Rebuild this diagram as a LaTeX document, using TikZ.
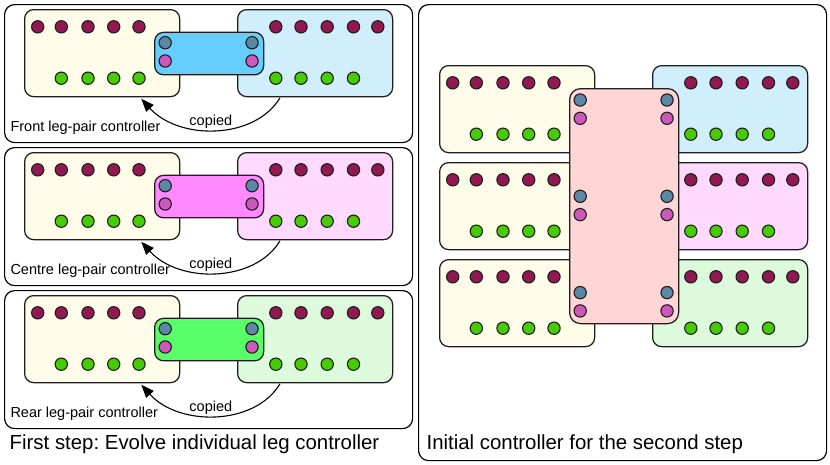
\documentclass[tikz,border=0pt]{standalone}
\usepackage{fontspec}
\setmainfont{Liberation Sans}
\frenchspacing
\usetikzlibrary{arrows.meta,calc}
\definecolor{dotred}{RGB}{145,24,80}
\definecolor{dotgreen}{RGB}{70,204,0}
\definecolor{dotblue}{RGB}{92,136,165}
\definecolor{dotpink}{RGB}{204,88,188}
\definecolor{leftfill}{RGB}{255,253,233}
\definecolor{fillA}{RGB}{208,238,252}
\definecolor{fillB}{RGB}{255,217,255}
\definecolor{fillC}{RGB}{221,250,221}
\definecolor{linkA}{RGB}{102,206,255}
\definecolor{linkB}{RGB}{255,138,255}
\definecolor{linkC}{RGB}{88,255,104}
\definecolor{centralfill}{RGB}{255,213,213}
\definecolor{edge}{RGB}{30,30,30}
\tikzset{
  ctrlbox/.style={draw=edge, line width=1.25pt, rounded corners=9pt, minimum width=155pt, minimum height=87pt, inner sep=0pt, anchor=north west},
  linkbox/.style={draw=edge, line width=1.25pt, rounded corners=9pt, minimum width=109pt, minimum height=42.5pt, inner sep=0pt, anchor=north west},
  centralbox/.style={draw=edge, line width=1.25pt, rounded corners=11pt, minimum width=109pt, minimum height=235pt, inner sep=0pt, anchor=north west, fill=centralfill},
  panel/.style={draw=black, line width=1.2pt, rounded corners=10pt, inner sep=0pt, anchor=north west},
  dot/.style={circle, draw=edge, line width=1.1pt, minimum size=12.3pt, inner sep=0pt},
  reddot/.style={dot, fill=dotred},
  greendot/.style={dot, fill=dotgreen},
  bluedot/.style={dot, fill=dotblue},
  pinkdot/.style={dot, fill=dotpink},
  lbl/.style={font=\fontsize{14.5}{16}\selectfont, inner sep=0pt, anchor=base west},
  caption/.style={font=\fontsize{20.4}{23}\selectfont, inner sep=0pt, anchor=base west},
  copyarrow/.style={draw=black, line width=1.1pt, -{Triangle[length=13pt,width=10pt]}},
}
% left controller: name, x, y
\newcommand\mkleftctrl[3]{%
  \node[ctrlbox, fill=leftfill] (#1) at (#2,#3) {};
  \foreach \dx [count=\i] in {13.7,37.3,64,89.7,115}
    \node[reddot] (#1t\i) at ($(#1.north west)+(\dx,17.8)$) {};
  \foreach \dx [count=\i] in {37.3,64,89.7,115}
    \node[greendot] (#1b\i) at ($(#1.north west)+(\dx,69.2)$) {};
}
% right controller: name, x, y, fill
\newcommand\mkrightctrl[4]{%
  \node[ctrlbox, fill=#4] (#1) at (#2,#3) {};
  \foreach \dx [count=\i] in {38.8,64,90.2,116.5,140.8}
    \node[reddot] (#1t\i) at ($(#1.north west)+(\dx,17.8)$) {};
  \foreach \dx [count=\i] in {38.8,64,90.2,116.5}
    \node[greendot] (#1b\i) at ($(#1.north west)+(\dx,69.2)$) {};
}
% link dots: box name, y offset of pair, suffix
\newcommand\mklinkdots[3]{%
  \node[bluedot] (#1lb#3) at ($(#1.north west)+(11.2,#2)$) {};
  \node[pinkdot] (#1lp#3) at ($(#1.north west)+(11.2,#2+18.3)$) {};
  \node[bluedot] (#1rb#3) at ($(#1.north east)+(-12.2,#2)$) {};
  \node[pinkdot] (#1rp#3) at ($(#1.north east)+(-12.2,#2+18.3)$) {};
}
% one first-step panel: prefix, y offset, right fill, link fill, label
\newcommand\mksteppanel[5]{%
  \node[panel, minimum width=408pt, minimum height=138pt] (#1P) at (4,4+#2) {};
  \mkleftctrl{#1L}{24}{9+#2}
  \mkrightctrl{#1R}{237}{9+#2}{#3}
  \node[linkbox, fill=#4] (#1K) at (154,31.7+#2) {};
  \mklinkdots{#1K}{11}{}
  \coordinate (#1s) at ($(#1R.south west)+(43,0.5)$);
  \coordinate (#1e) at ($(#1L.south east)+(-39,1.5)$);
  \draw[copyarrow] (#1s) .. controls +(-25,42) and +(38,42) .. (#1e);
  \node[lbl, anchor=base] (#1c) at (210.8,125+#2) {copied};
  \node[lbl] (#1n) at (10.3,131.7+#2) {#5};
}
\begin{document}
\begin{tikzpicture}[x=1pt,y=-1pt]
\useasboundingbox (0,0) rectangle (830,464);
\mksteppanel{a}{0}{fillA}{linkA}{Front leg-pair controller}
\mksteppanel{b}{143}{fillB}{linkB}{Centre leg-pair controller}
\mksteppanel{c}{286}{fillC}{linkC}{Rear leg-pair controller}
\node[caption] (cap1) at (9.5,449) {First step: Evolve individual leg controller};
% second step
\node[panel, minimum width=408pt, minimum height=456pt] (Q) at (418,4) {};
\mkleftctrl{QL1}{439}{65}
\mkleftctrl{QL2}{439}{162}
\mkleftctrl{QL3}{439}{259}
\mkrightctrl{QR1}{652}{65}{fillA}
\mkrightctrl{QR2}{652}{162}{fillB}
\mkrightctrl{QR3}{652}{259}{fillC}
\node[centralbox] (QC) at (569,88) {};
\mklinkdots{QC}{12}{1}
\mklinkdots{QC}{108.3}{2}
\mklinkdots{QC}{204.6}{3}
\node[caption] (cap2) at (426.4,449) {Initial controller for the second step};
\end{tikzpicture}
\end{document}
